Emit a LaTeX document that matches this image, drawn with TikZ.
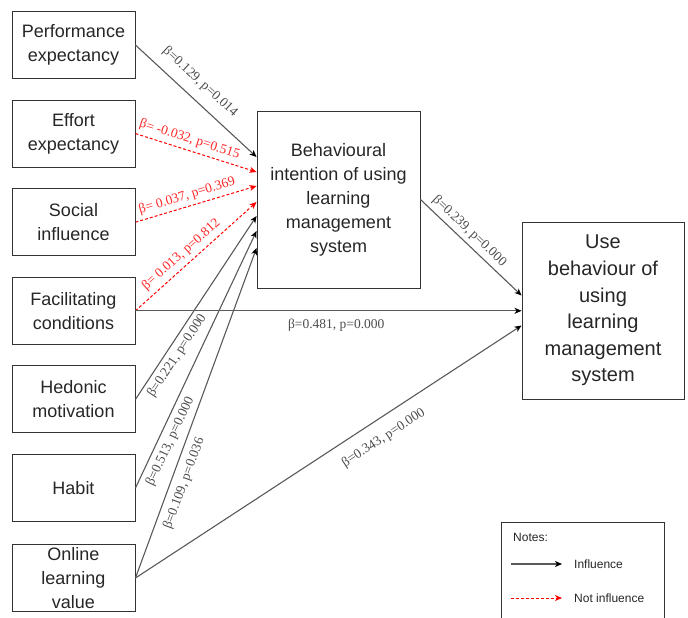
\documentclass[tikz,border=0pt]{standalone}
\usepackage{fontspec}
\setmainfont{Liberation Sans}
\newfontfamily\labelfont{Liberation Serif}
\usetikzlibrary{arrows.meta}

\begin{document}
\begin{tikzpicture}[x=1pt,y=-1pt,
  factor/.style={draw=black!80, line width=0.9pt, text=black!85, minimum width=123pt, minimum height=67pt, inner sep=0pt, align=center, font=\fontsize{18}{24}\selectfont},
  construct/.style={factor, minimum width=163pt, minimum height=177pt},
  sig/.style={draw=black!65, line width=1.1pt, -{Stealth[length=7pt,width=6pt,inset=2pt,black]}},
  nonsig/.style={draw=red, line width=1pt, dash pattern=on 3pt off 2pt, -{Stealth[length=7pt,width=6pt,inset=2pt,red]}},
  coef/.style={sloped, inner sep=2pt, text=black!70, font=\labelfont\fontsize{13.5}{14}\selectfont},
  coefred/.style={coef, text=red!85},
  legend/.style={anchor=west, inner sep=0pt, text=black!85, font=\fontsize{12}{14}\selectfont}]
\useasboundingbox (0,0) rectangle (688,618);
% draws factors
\node[factor] (pe) at (73.5,45) {Performance\\expectancy};
\node[factor] (ee) at (73.5,133.6) {Effort\\expectancy};
\node[factor] (si) at (73.5,222.2) {Social\\influence};
\node[factor] (fc) at (73.5,310.8) {Facilitating\\conditions};
\node[factor] (hm) at (73.5,399.4) {Hedonic\\motivation};
\node[factor] (ha) at (73.5,488) {Habit};
\node[factor] (olv) at (73.5,578) {Online\\learning\\value};
\node[construct] (bi) at (338.5,199.5) {Behavioural\\intention of using\\learning\\management\\system};
\node[construct, minimum width=162pt, font=\fontsize{20}{26.6}\selectfont] (ub) at (603,310.5) {Use\\behaviour of\\using\\learning\\management\\system};
% draws paths with coefficients
\draw[sig] (pe.east) -- ([yshift=42.5pt]bi.west) node[coef, pos=0.44, above=8pt] {β=0.129, p=0.014};
\draw[nonsig] (ee.east) -- ([yshift=27.5pt]bi.west) node[coefred, pos=0.42, above=2pt] {β= -0.032, p=0.515};
\draw[nonsig] (si.east) -- ([yshift=13.5pt]bi.west) node[coefred, pos=0.45, above=1.5pt] {β= 0.037, p=0.369};
\draw[nonsig] (fc.east) -- ([yshift=-2.5pt]bi.west) node[coefred, pos=0.44, above=2.5pt] {β= 0.013, p=0.812};
\draw[sig] (hm.east) -- ([yshift=-16.5pt]bi.west) node[coef, pos=0.27, below=2pt] {β=0.221, p=0.000};
\draw[sig] (ha.east) -- ([yshift=-31.5pt]bi.west) node[coef, pos=0.2, below=3pt] {β=0.513, p=0.000};
\draw[sig] (olv.east) -- ([yshift=-48.5pt]bi.west) node[coef, pos=0.3, below=4.5pt] {β=0.109, p=0.036};
\draw[sig] (bi.east) -- ([yshift=15pt]ub.west) node[coef, pos=0.41, above=2pt] {β=0.239, p=0.000};
\draw[sig] (fc.east) -- (fc.east -| ub.west) node[coef, pos=0.52, below=6pt] {β=0.481, p=0.000};
\draw[sig] (olv.east) -- ([yshift=-15pt]ub.west) node[coef, pos=0.616, below=10pt] {β=0.343, p=0.000};
% draws notes
\node[draw=black!80, line width=0.9pt, minimum width=163pt, minimum height=110pt, anchor=north west] (notes) at (501,522) {};
\node[legend] (title) at (513,537) {Notes:};
\coordinate (infa) at (511,564);
\coordinate (infb) at (562,564);
\coordinate (nota) at (511,598);
\coordinate (notb) at (562,598);
\draw[sig] (infa) -- (infb);
\draw[nonsig] (nota) -- (notb);
\node[legend] (inf) at (574,564) {Influence};
\node[legend] (noinf) at (574,598) {Not influence};
\end{tikzpicture}
\end{document}
